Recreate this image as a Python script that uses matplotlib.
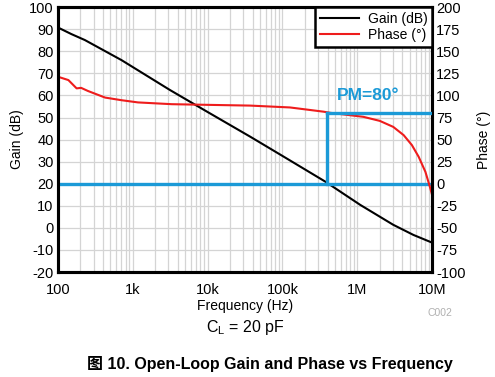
import matplotlib.pyplot as plt
import numpy as np

plt.rcParams['font.family'] = ['Liberation Sans', 'Noto Sans CJK SC', 'DejaVu Sans']
plt.rcParams['axes.unicode_minus'] = False

# gain curve (log10 freq, dB)
gain_logf = [2.0, 2.18, 2.36, 2.85, 3.5, 4.0, 4.57, 5.0, 5.57, 6.04, 6.26, 6.48, 6.75, 7.0]
gain_db = [90.8, 87.8, 85.1, 76.0, 62.4, 52.5, 41.3, 32.6, 21.0, 10.4, 5.9, 1.4, -3.2, -6.7]

# phase curve (log10 freq, degrees)
phase_logf = [2.0, 2.14, 2.25, 2.31, 2.40, 2.63, 2.85, 3.07, 3.52, 3.9, 4.57, 5.1, 5.55,
              5.64, 6.08, 6.30, 6.48, 6.62, 6.73, 6.82, 6.91, 6.97, 7.0]
phase_deg = [121.2, 117.4, 108, 108.6, 105.1, 97.6, 94.6, 92.1, 90.1, 89.5, 88.5, 86.4, 81.6,
             80.3, 75.8, 71.2, 64.4, 55, 43.7, 30.5, 13.5, -3.5, -13]

f_cross = 10 ** 5.59   # 20 dB crossover
pm = 80

fig = plt.figure(figsize=(4.95, 3.77), dpi=100)
ax = fig.add_axes([0.117, 0.2785, 0.756, 0.7025])
ax2 = ax.twinx()

ax.set_xscale('log')
ax.set_xlim(100, 1e7)
ax.set_ylim(-20, 100)
ax.set_yticks(np.arange(-20, 101, 10))
ax2.set_ylim(-100, 200)
ax2.set_yticks(np.arange(-100, 201, 25))

ax.set_xticks([1e2, 1e3, 1e4, 1e5, 1e6, 1e7])
ax.set_xticklabels(['100', '1k', '10k', '100k', '1M', '10M'])

ax.grid(True, which='both', color='#d4d4d4', lw=0.9)
ax.set_axisbelow(True)
for a in (ax, ax2):
    a.tick_params(which='both', length=0, labelsize=10.5, pad=3)
    for s in a.spines.values():
        s.set_linewidth(2.2)
ax.tick_params(axis='x', pad=8)

l1, = ax.plot(10 ** np.array(gain_logf), gain_db, color='black', lw=1.5, label='Gain (dB)')
l2, = ax2.plot(10 ** np.array(phase_logf), phase_deg, color='#ee1c1c', lw=1.5, label='Phase (°)')

blue = '#1b9ad7'
ax.axhline(20, color=blue, lw=2.4, zorder=5)
ax2.plot([f_cross, f_cross], [0, pm], color=blue, lw=2.4, zorder=5)
ax2.plot([f_cross, 1e7], [pm, pm], color=blue, lw=2.4, zorder=5)
ax2.text(10 ** 5.73, 91, 'PM=80°', color=blue, fontsize=12.5, fontweight='bold', va='bottom')

leg = ax2.legend(handles=[l1, l2], loc='upper right', fontsize=10, fancybox=False,
                 framealpha=1, edgecolor='black', borderaxespad=0, handlelength=2.8,
                 borderpad=0.35, labelspacing=0.15, handletextpad=0.6)
leg.get_frame().set_linewidth(1.8)

ax.set_ylabel('Gain (dB)', fontsize=10, labelpad=4)
ax2.set_ylabel('Phase (°)', fontsize=10, labelpad=8)
ax.set_xlabel('Frequency (Hz)', fontsize=10, labelpad=1)

fig.text(0.888, 0.163, 'C002', color='#b0b0b0', fontsize=7.5, ha='center')
fig.text(0.495, 0.12, r'C$_\mathregular{L}$ = 20 pF', fontsize=11.5, ha='center')
fig.text(0.546, 0.02, '图 10. Open-Loop Gain and Phase vs Frequency', fontsize=11.5,
         fontweight='bold', ha='center')

fig.savefig('out.png', dpi=100)
